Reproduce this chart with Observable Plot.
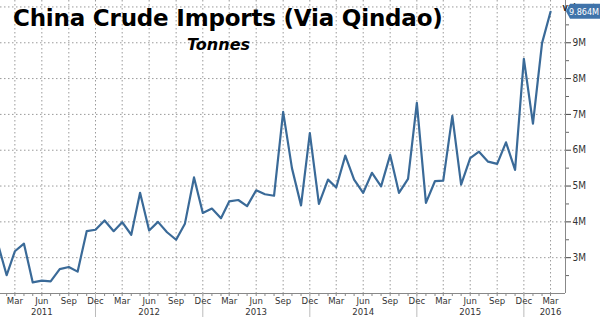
<!DOCTYPE html>
<html>
<head>
<meta charset="utf-8">
<script src="https://cdn.jsdelivr.net/npm/d3@7"></script>
<script src="https://cdn.jsdelivr.net/npm/@observablehq/plot@0.6"></script>
<style>
  html, body { margin: 0; padding: 0; background: #fff; }
  #wrap { position: relative; width: 600px; height: 317px; overflow: hidden; }
  #title { position: absolute; left: 13px; top: 5px; font: bold 23px "DejaVu Sans", sans-serif; color: #000; white-space: nowrap; letter-spacing: -0.2px; }
  #subtitle { position: absolute; left: 187px; top: 35px; font: italic bold 16px "DejaVu Sans", sans-serif; color: #000; }
</style>
</head>
<body>
<div id="wrap">
  <div id="chart"></div>
  <div id="title">China Crude Imports (Via Qindao)</div>
  <div id="subtitle">Tonnes</div>
</div>
<script>
// Monthly crude imports via Qingdao, millions of tonnes, Jan 2011 .. Mar 2016
const startYear = 2011;
const imports = [
  3.42, 2.51, 3.18, 3.39, 2.31, 2.36, 2.34, 2.68, 2.74, 2.61, 3.74, 3.78,
  4.04, 3.74, 3.99, 3.64, 4.81, 3.76, 4.00, 3.71, 3.50, 3.95, 5.24, 4.25,
  4.37, 4.10, 4.57, 4.61, 4.44, 4.88, 4.77, 4.73, 7.07, 5.50, 4.46, 6.48,
  4.50, 5.18, 4.96, 5.85, 5.18, 4.81, 5.37, 4.99, 5.87, 4.81, 5.20, 7.32,
  4.53, 5.14, 5.15, 6.96, 5.04, 5.78, 5.96, 5.68, 5.62, 6.22, 5.45, 8.55,
  6.74, 8.99, 9.864
];
const lastLabel = "9.864M";
const yTicks = [3, 4, 5, 6, 7, 8, 9];
const yGrid = [3, 4, 5, 6, 7, 8, 9, 10];
const yMinor = [2.5, 3.5, 4.5, 5.5, 6.5, 7.5, 8.5, 9.5];
const tickLabels = [
  "Mar", "Jun\n2011", "Sep", "Dec",
  "Mar", "Jun\n2012", "Sep", "Dec",
  "Mar", "Jun\n2013", "Sep", "Dec",
  "Mar", "Jun\n2014", "Sep", "Dec",
  "Mar", "Jun\n2015", "Sep", "Dec",
  "Mar\n2016"
];

const data = imports.map((v, i) => ({date: new Date(Date.UTC(startYear, i, 1)), value: v}));
const monthDates = data.map(d => d.date);
const quarterDates = tickLabels.map((_, k) => new Date(Date.UTC(startYear, 2 + 3 * k, 1)));
const decDates = quarterDates.filter(d => d.getUTCMonth() === 11);
const labelByTime = new Map(quarterDates.map((d, k) => [+d, tickLabels[k]]));
const lastPoint = data[data.length - 1];
const xEnd = new Date(Date.UTC(2016, 3, 21));

const lineColor = "#3a6a98";
const gridStyle = {stroke: "#9a9a9a", strokeOpacity: 1, strokeDasharray: "1.5,2.5", strokeWidth: 1};

function valueBox(index, scales, values, dimensions) {
  const yScale = scales.y || (scales.scales && scales.scales.y);
  const y = yScale(lastPoint.value);
  const x0 = dimensions.width - dimensions.marginRight;
  const ns = "http://www.w3.org/2000/svg";
  const p = document.createElementNS(ns, "path");
  const h = 7.5;
  p.setAttribute("d", `M${x0 + 1},${y} L${x0 + 5},${y - h} L${dimensions.width},${y - h} L${dimensions.width},${y + h} L${x0 + 5},${y + h} Z`);
  p.setAttribute("fill", "#3f73aa");
  return p;
}

const chart = Plot.plot({
  width: 600,
  height: 317,
  marginTop: 0,
  marginLeft: 0,
  marginRight: 35,
  marginBottom: 24,
  style: {background: "#fff", fontFamily: "DejaVu Sans Condensed, DejaVu Sans, sans-serif"},
  x: {type: "utc", domain: [new Date(Date.UTC(2011, 0, 11)), xEnd]},
  y: {domain: [2, 10.18]},
  marks: [
    Plot.gridY(yGrid, gridStyle),
    Plot.gridX(quarterDates, gridStyle),
    Plot.line(data, {x: "date", y: "value", stroke: lineColor, strokeWidth: 2.2, clip: true}),
    Plot.ruleY([2], {stroke: "#888"}),
    Plot.ruleX([xEnd], {stroke: "#888"}),
    Plot.axisX(monthDates, {tickSize: 3, text: null, stroke: "#888"}),
    Plot.axisX(decDates, {tickSize: 24, text: null, stroke: "#bbb"}),
    Plot.axisX(quarterDates, {tickSize: 0, tickPadding: 3, fontSize: 9.5, fill: "#333", lineHeight: 1.15, tickFormat: d => labelByTime.get(+d)}),
    Plot.axisY(yMinor, {anchor: "right", tickSize: 3, text: null, stroke: "#666"}),
    Plot.axisY(yTicks, {anchor: "right", tickSize: 5, tickPadding: 2, fontSize: 10, fill: "#333", stroke: "#444", tickFormat: d => d + "M"}),
    valueBox,
    Plot.text([lastPoint], {x: () => xEnd, y: "value", text: () => lastLabel, dx: 18.5, fill: "#fff", fontSize: 9, textAnchor: "middle"})
  ]
});
document.getElementById("chart").appendChild(chart);
</script>
</body>
</html>
